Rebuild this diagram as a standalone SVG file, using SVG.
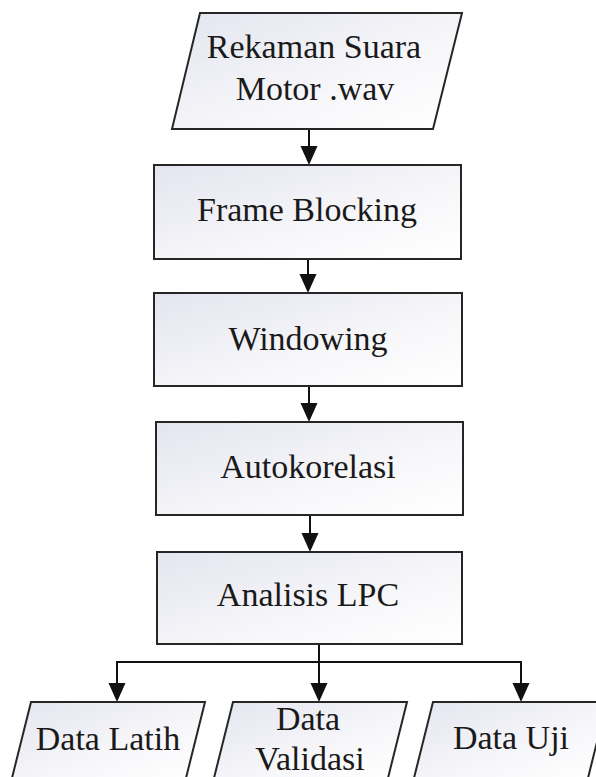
<svg xmlns="http://www.w3.org/2000/svg" width="596" height="777" viewBox="0 0 596 777">
  <defs>
    <linearGradient id="fillGrad" x1="0" y1="0" x2="1" y2="1">
      <stop offset="0" stop-color="#e3e5ef"/>
      <stop offset="0.6" stop-color="#f7f7fa"/>
      <stop offset="1" stop-color="#ffffff"/>
    </linearGradient>
  </defs>
  <style>
    .shape { fill: url(#fillGrad); stroke: #262626; stroke-width: 2; }
    .label { font-family: 'Liberation Serif', 'Times New Roman', serif; font-size: 34px; fill: #1a1a1a; text-anchor: middle; }
    .conn { fill: none; stroke: #111; stroke-width: 2; }
    .head { fill: #111; }
  </style>
  <rect width="596" height="777" fill="#ffffff"/>

  <g id="connectors">
    <line class="conn" x1="309" y1="129" x2="309" y2="146"/>
    <path class="head" d="M300.5,146 L317.5,146 L309,165 Z"/>
    <line class="conn" x1="308" y1="259" x2="308" y2="274"/>
    <path class="head" d="M299.5,274 L316.5,274 L308,293 Z"/>
    <line class="conn" x1="309" y1="386" x2="309" y2="403"/>
    <path class="head" d="M300.5,403 L317.5,403 L309,422 Z"/>
    <line class="conn" x1="310" y1="515" x2="310" y2="533"/>
    <path class="head" d="M301.5,533 L318.5,533 L310,552 Z"/>
    <line class="conn" x1="319" y1="644" x2="319" y2="683"/>
    <polyline class="conn" points="117,683 117,662 521,662 521,683"/>
    <path class="head" d="M108.5,683 L125.5,683 L117,702 Z"/>
    <path class="head" d="M310.5,683 L327.5,683 L319,702 Z"/>
    <path class="head" d="M512.5,683 L529.5,683 L521,702 Z"/>
  </g>

  <g id="rekaman">
    <polygon class="shape" points="200,13 462,13 433,129 172,129"/>
    <text class="label" x="314" y="58">Rekaman Suara</text>
    <text class="label" x="315" y="100">Motor .wav</text>
  </g>

  <g id="frame-blocking">
    <rect class="shape" x="154" y="165" width="307" height="94"/>
    <text class="label" x="307" y="221">Frame Blocking</text>
  </g>

  <g id="windowing">
    <rect class="shape" x="154" y="293" width="308" height="93"/>
    <text class="label" x="308" y="350">Windowing</text>
  </g>

  <g id="autokorelasi">
    <rect class="shape" x="156" y="422" width="307" height="93"/>
    <text class="label" x="308" y="478">Autokorelasi</text>
  </g>

  <g id="analisis-lpc">
    <rect class="shape" x="157" y="552" width="305" height="92"/>
    <text class="label" x="308" y="606">Analisis LPC</text>
  </g>

  <g id="data-latih">
    <polygon class="shape" points="31,702 205,702 186,778 12,778"/>
    <text class="label" x="108" y="750">Data Latih</text>
  </g>

  <g id="data-validasi">
    <polygon class="shape" points="233,702 407,702 388,778 214,778"/>
    <text class="label" x="308" y="730">Data</text>
    <text class="label" x="310" y="770">Validasi</text>
  </g>

  <g id="data-uji">
    <polygon class="shape" points="433,702 607,702 588,778 414,778"/>
    <text class="label" x="511" y="749">Data Uji</text>
  </g>
</svg>
